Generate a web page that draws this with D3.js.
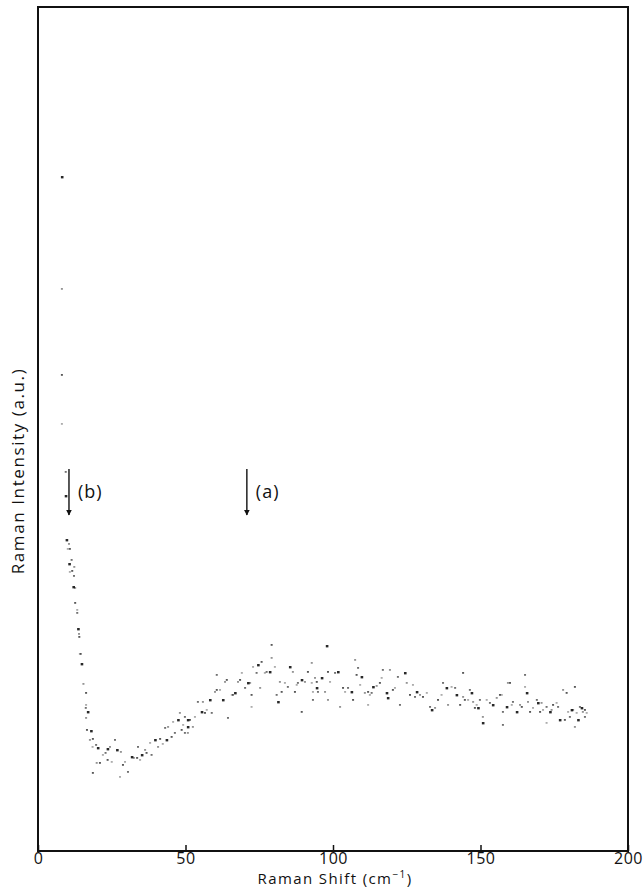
<!DOCTYPE html>
<html>
<head>
<meta charset="utf-8">
<script src="https://cdn.jsdelivr.net/npm/d3@7"></script>
<style>
  body { margin: 0; background: #fff; }
  text { font-family: "Open Sans", "DejaVu Sans", sans-serif; fill: #111; }
</style>
</head>
<body>
<div id="chart"></div>
<script>
const width = 644, height = 890,
  margin = { left: 38, top: 7, right: 16, bottom: 39 };

// x: Raman shift (cm-1), y: intensity (a.u.)
const xTicks = [0, 50, 100, 150, 200];
const xDomain = [0, 200];
const yDomain = [0, 844];

// isolated points at the laser line
const spikePoints = [[8.1, 674], [8.1, 562], [8.1, 476], [8.1, 427], [9.4, 379], [9.4, 355]];

// steep low-frequency wing
const wingPoints = [
  [9.7, 311], [10.5, 307], [10.8, 302], [10.1, 302], [11.4, 291], [10.6, 287], [12.3, 284],
  [11.6, 280], [10.8, 279], [12.2, 275], [12.0, 264], [12.6, 263], [12.6, 248], [13.3, 241],
  [13.3, 238], [13.6, 222], [13.9, 217], [14.0, 214], [14.2, 197], [14.5, 197], [14.8, 187],
  [15.4, 167], [16.3, 158], [16.3, 146], [16.2, 143], [16.9, 139], [16.3, 133], [16.6, 121]
];

// broad band
const bandPoints = [
  [18.0, 120], [17.6, 111], [18.6, 112], [18.5, 104], [19.7, 106], [20.3, 103], [19.9, 88],
  [21.0, 88], [22.0, 96], [22.9, 98], [23.6, 102], [24.4, 104], [23.6, 91], [25.0, 89],
  [26.1, 111], [26.8, 101], [28.1, 99], [28.8, 86], [29.5, 89], [30.5, 79], [31.8, 94],
  [32.5, 93], [33.6, 93], [34.6, 91], [33.9, 104], [35.2, 96], [36.3, 101], [36.8, 98],
  [38.0, 108], [38.5, 96], [39.7, 111], [40.7, 104], [41.4, 112], [42.3, 107], [43.1, 123],
  [43.6, 111], [44.1, 124], [45.3, 114], [45.8, 129], [46.4, 118], [47.5, 131], [48.1, 138],
  [48.7, 121], [49.2, 126], [49.8, 134], [50.8, 131], [50.8, 118], [18.6, 78], [27.8, 74],
  [49.8, 118], [50.8, 124], [52.5, 124], [51.5, 131], [53.2, 134], [54.2, 149], [55.5, 139],
  [55.9, 149], [56.6, 138], [57.2, 141], [58.9, 138], [58.3, 151], [60.0, 159], [60.6, 161],
  [61.7, 161], [60.6, 176], [62.7, 151], [63.4, 169], [64.0, 171], [65.7, 156], [66.1, 156],
  [66.8, 158], [67.8, 169], [68.5, 171], [69.1, 178], [70.2, 163], [71.2, 168], [71.9, 168],
  [72.4, 156], [72.9, 184], [74.1, 178], [74.6, 186], [75.3, 163], [75.8, 189], [76.9, 178],
  [77.5, 179], [78.6, 179], [79.2, 193], [79.2, 206], [80.3, 184], [80.9, 156], [81.4, 149],
  [82.0, 169], [82.6, 159], [83.7, 168], [84.7, 164], [85.4, 184], [86.4, 179], [87.1, 159],
  [87.7, 166], [88.1, 168], [89.4, 171], [90.5, 169], [91.5, 179], [92.8, 168], [93.2, 151],
  [94.5, 163], [93.9, 173], [89.4, 139], [72.4, 144], [64.4, 133],
  [97.9, 205], [92.8, 188], [94.5, 169], [93.2, 159], [94.9, 159], [96.2, 173], [97.3, 159],
  [98.3, 179], [99.0, 169], [100.7, 178], [101.7, 179], [98.3, 151], [103.4, 163], [104.1, 159],
  [105.1, 163], [106.3, 159], [107.5, 191], [108.0, 176], [109.2, 166], [108.5, 183], [109.7, 174],
  [110.8, 158], [111.9, 159], [112.5, 156], [113.1, 158], [113.6, 164], [114.8, 165], [115.9, 168],
  [116.5, 173], [116.9, 181], [118.2, 158], [119.3, 181], [120.3, 161], [121.0, 163], [122.0, 174],
  [124.4, 178], [125.0, 168], [126.1, 156], [127.1, 166], [127.8, 154], [128.4, 159], [129.5, 156],
  [130.5, 154], [131.8, 158], [132.9, 144], [133.5, 141], [134.6, 143], [135.6, 151], [136.8, 156],
  [137.3, 168], [138.5, 163], [139.0, 146], [106.8, 151], [111.9, 146], [122.7, 146], [118.6, 153],
  [102.4, 144],
  [144.1, 178], [140.2, 164], [141.4, 163], [141.9, 156], [144.1, 154], [144.7, 151], [145.8, 151],
  [146.4, 161], [147.0, 158], [147.5, 149], [148.1, 143], [148.7, 146], [149.8, 151], [149.2, 143],
  [150.8, 134], [143.1, 146], [152.1, 151], [153.2, 148], [154.2, 146], [155.5, 153], [156.6, 156],
  [157.2, 156], [157.6, 139], [158.9, 144], [159.3, 168], [160.0, 168], [160.6, 146], [161.0, 149],
  [162.3, 139], [163.4, 146], [164.0, 144], [165.1, 164], [165.1, 176], [165.7, 158], [166.1, 149],
  [166.8, 139], [167.8, 143], [169.1, 151], [169.5, 148], [170.7, 148], [170.2, 139], [171.2, 141],
  [172.4, 144], [173.6, 139], [174.1, 141], [174.6, 146], [175.8, 148], [176.3, 144], [176.9, 131],
  [178.0, 161], [179.2, 158], [179.7, 139], [180.3, 134], [180.9, 141], [181.4, 141], [182.0, 164],
  [182.6, 138], [183.7, 144], [184.3, 143], [184.7, 139], [185.4, 141], [186.0, 138], [185.4, 134],
  [183.1, 131], [182.0, 124], [178.6, 131], [172.4, 128], [157.6, 126], [150.8, 128]
];

// arrow annotations
const arrowLabels = ['(b)', '(a)'];
const arrowX = [10.5, 70.8];
const arrowY = [382, 336];

const svg = d3.select('#chart')
  .append('svg')
  .attr('width', width)
  .attr('height', height)

const x = d3.scaleLinear().domain(xDomain)
  .range([margin.left, width - margin.right])
const y = d3.scaleLinear().domain(yDomain)
  .range([height - margin.bottom, margin.top])

// frame
svg.append('rect')
  .attr('x', x(0)).attr('y', y(yDomain[1]))
  .attr('width', x(200) - x(0))
  .attr('height', y(0) - y(yDomain[1]))
  .attr('fill', 'none')
  .attr('stroke', '#111')
  .attr('stroke-width', 2)

// x axis, ticks pointing inward
const xAxis = d3.axisBottom(x).tickValues(xTicks)
  .tickSizeInner(-6).tickSizeOuter(0).tickPadding(2)
const gx = svg.append('g')
  .attr('transform', `translate(0,${y(0)})`)
  .call(xAxis)
gx.select('.domain').remove()
gx.selectAll('.tick line').attr('stroke', '#111').attr('stroke-width', 1.5)
gx.selectAll('.tick text')
  .attr('dy', '0.7em')
  .style('font-size', '16px')
  .style('letter-spacing', '0.5px')
  .style('fill', '#111')

const xTitle = svg.append('text')
  .attr('x', x(100) + 2)
  .attr('y', 884)
  .attr('text-anchor', 'middle')
  .style('font-size', '15px')
  .style('letter-spacing', '1.4px')
xTitle.append('tspan').text('Raman Shift (cm')
xTitle.append('tspan').text('−1').attr('dy', -6).style('font-size', '10px')
xTitle.append('tspan').text(')').attr('dy', 6)

svg.append('text')
  .attr('transform', `translate(24,${471}) rotate(-90)`)
  .attr('text-anchor', 'middle')
  .style('font-size', '17px')
  .style('letter-spacing', '1.6px')
  .text('Raman Intensity (a.u.)')

// data points
const dot = (g, data, cls) => {
  g.selectAll('.' + cls)
    .data(data)
    .enter()
    .append('rect')
    .attr('class', cls)
    .attr('x', (d) => x(d[0]) - 1)
    .attr('y', (d) => y(d[1]) - 1)
    .attr('width', (d, i) => (i % 5 === 0 ? 2.6 : 2))
    .attr('height', (d, i) => (i % 5 === 0 ? 2.4 : 1.8))
    .attr('fill', '#111')
    .attr('opacity', (d, i) => [0.9, 0.45, 0.7, 0.35, 0.6][i % 5])
}
const g = svg.append('g')
dot(g, spikePoints, 'spike')
dot(g, wingPoints, 'wing')
dot(g, bandPoints, 'band')

// arrows
const marker = svg.append('defs').append('marker')
  .attr('id', 'head')
  .attr('viewBox', '0 0 10 10')
  .attr('refX', 9).attr('refY', 5)
  .attr('markerWidth', 6).attr('markerHeight', 8)
  .attr('markerUnits', 'userSpaceOnUse')
  .attr('orient', 'auto')
marker.append('path').attr('d', 'M0,0 L10,5 L0,10 Z').attr('fill', '#111')

arrowX.forEach((ax, i) => {
  svg.append('line')
    .attr('x1', x(ax)).attr('x2', x(ax))
    .attr('y1', y(arrowY[0])).attr('y2', y(arrowY[1]))
    .attr('stroke', '#111')
    .attr('stroke-width', 1.4)
    .attr('marker-end', 'url(#head)')
  svg.append('text')
    .attr('x', x(ax) + 9)
    .attr('y', y((arrowY[0] + arrowY[1]) / 2) + 6)
    .style('font-size', '18px')
    .style('letter-spacing', '1px')
    .text(arrowLabels[i])
})
</script>
</body>
</html>
